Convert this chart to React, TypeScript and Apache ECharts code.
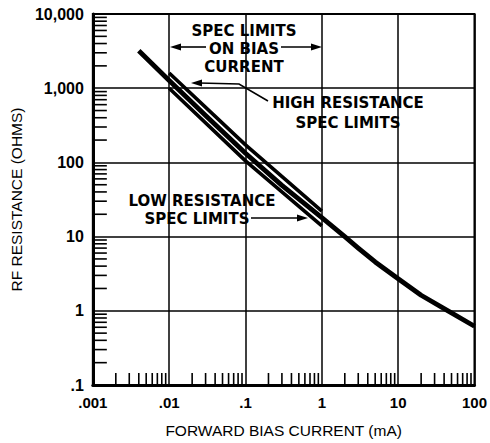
import React, { useEffect, useRef } from 'react';
import * as echarts from 'echarts';

// Axis tick labels (decades)
const xTickLabels = ['.001', '.01', '.1', '1', '10', '100'];
const yTickLabels = ['.1', '1', '10', '100', '1,000', '10,000'];
const xDecades = [-3, -2, -1, 0, 1];
const yDecades = [-1, 0, 1, 2, 3];
const minorMultipliers = [2, 3, 4, 5, 6, 7, 8, 9];

// Main RF resistance curve (mA, ohms)
const mainCurrent = [0.004, 0.01, 0.03, 0.1, 0.3, 1, 2, 3, 5, 10, 20, 45, 100];
const mainResistance = [3200, 1270, 430, 133, 49, 18, 10, 7.0, 4.55, 2.7, 1.62, 1.0, 0.62];

// High resistance spec limit line
const highCurrent = [0.01, 0.1, 1];
const highResistance = [1600, 172, 22];

// Low resistance spec limit line
const lowCurrent = [0.01, 0.1, 1];
const lowResistance = [1000, 105, 14];

const X_MIN = 0.001;
const X_MAX = 100;
const Y_MIN = 0.1;
const Y_MAX = 10000;

const zip = (a: number[], b: number[]) => a.map((v, i) => [v, b[i]]);

const xMinorTicks: number[][] = [];
xDecades.forEach((e) => minorMultipliers.forEach((k) => xMinorTicks.push([k * Math.pow(10, e), Y_MIN])));
const yMinorTicks: number[][] = [];
yDecades.forEach((e) => minorMultipliers.forEach((k) => yMinorTicks.push([X_MIN, k * Math.pow(10, e)])));

const tickFont = 'Liberation Sans';
const annFont = 'bold 15px "DejaVu Sans"';

function txt(text: string, x: number, y: number) {
  return {
    type: 'text',
    x,
    y,
    style: {
      text,
      font: annFont,
      fill: '#000',
      textAlign: 'center',
      textVerticalAlign: 'middle',
      align: 'center',
      verticalAlign: 'middle',
    },
    z: 100,
  };
}

function arrowHead(tipX: number, tipY: number, dir: number) {
  const len = 11;
  const half = 3.5;
  return {
    type: 'polygon',
    shape: {
      points: [
        [tipX, tipY],
        [tipX - dir * len, tipY - half],
        [tipX - dir * len, tipY + half],
      ],
    },
    style: { fill: '#000' },
    z: 100,
  };
}

function hline(x1: number, x2: number, y: number) {
  return {
    type: 'line',
    shape: { x1, y1: y, x2, y2: y },
    style: { stroke: '#000', lineWidth: 1.6 },
    z: 100,
  };
}

export default function App() {
  const ref = useRef<HTMLDivElement>(null);

  useEffect(() => {
    const chart = echarts.init(ref.current!, null, { renderer: 'svg' });
    const option: any = {
      animation: false,
      backgroundColor: '#fff',
      grid: {
        left: 92,
        right: 12,
        top: 14,
        bottom: 54,
        show: true,
        borderColor: '#000',
        borderWidth: 2,
        backgroundColor: 'transparent',
      },
      xAxis: {
        type: 'log',
        logBase: 10,
        min: X_MIN,
        max: X_MAX,
        axisLine: { show: true, onZero: false, lineStyle: { color: '#000', width: 3 } },
        axisTick: { show: false },
        splitLine: { show: true, lineStyle: { color: '#000', width: 1.5 } },
        axisLabel: {
          color: '#000',
          fontFamily: tickFont,
          fontWeight: 'bold',
          fontSize: 15,
          margin: 10,
          formatter: (v: number) => xTickLabels[Math.round(Math.log10(v)) + 3] ?? '',
        },
        name: 'FORWARD BIAS CURRENT (mA)',
        nameLocation: 'middle',
        nameGap: 37,
        nameTextStyle: { color: '#000', fontFamily: tickFont, fontSize: 15.5 },
      },
      yAxis: {
        type: 'log',
        logBase: 10,
        min: Y_MIN,
        max: Y_MAX,
        axisLine: { show: true, onZero: false, lineStyle: { color: '#000', width: 3 } },
        axisTick: { show: false },
        splitLine: { show: true, lineStyle: { color: '#000', width: 1.5 } },
        axisLabel: {
          color: '#000',
          fontFamily: tickFont,
          fontWeight: 'bold',
          fontSize: 16,
          margin: 9,
          formatter: (v: number) => yTickLabels[Math.round(Math.log10(v)) + 1] ?? '',
        },
        name: 'RF RESISTANCE (OHMS)',
        nameLocation: 'middle',
        nameGap: 68,
        nameTextStyle: { color: '#000', fontFamily: tickFont, fontSize: 15.5 },
      },
      series: [
        {
          type: 'custom',
          clip: false,
          silent: true,
          z: 5,
          data: xMinorTicks,
          renderItem: (params: any, api: any) => {
            const p = api.coord([api.value(0), api.value(1)]);
            return {
              type: 'line',
              shape: { x1: p[0], y1: p[1], x2: p[0], y2: p[1] - 12 },
              style: { stroke: '#000', lineWidth: 1.6 },
            };
          },
        },
        {
          type: 'custom',
          clip: false,
          silent: true,
          z: 5,
          data: yMinorTicks,
          renderItem: (params: any, api: any) => {
            const p = api.coord([api.value(0), api.value(1)]);
            return {
              type: 'line',
              shape: { x1: p[0], y1: p[1], x2: p[0] + 14, y2: p[1] },
              style: { stroke: '#000', lineWidth: 1.6 },
            };
          },
        },
        {
          type: 'line',
          data: zip(mainCurrent, mainResistance),
          smooth: false,
          symbol: 'none',
          lineStyle: { color: '#000', width: 4.8, cap: 'butt', join: 'round' },
          z: 10,
        },
        {
          type: 'line',
          data: zip(highCurrent, highResistance),
          smooth: false,
          symbol: 'none',
          lineStyle: { color: '#000', width: 3.6, cap: 'butt' },
          z: 11,
        },
        {
          type: 'line',
          data: zip(lowCurrent, lowResistance),
          smooth: false,
          symbol: 'none',
          lineStyle: { color: '#000', width: 3.6, cap: 'butt' },
          z: 11,
        },
      ],
      graphic: [
        txt('SPEC LIMITS', 244, 31),
        txt('ON BIAS', 244, 49),
        txt('CURRENT', 244, 67),
        hline(176, 206, 47),
        arrowHead(170, 47, -1),
        hline(281, 316, 47),
        arrowHead(322, 47, 1),
        txt('HIGH RESISTANCE', 348, 102.5),
        txt('SPEC LIMITS', 348, 122.5),
        {
          type: 'polyline',
          shape: { points: [[268, 101], [239, 84], [199, 83]] },
          style: { stroke: '#000', lineWidth: 1.6, fill: null },
          z: 100,
        },
        arrowHead(191, 83, -1),
        txt('LOW RESISTANCE', 202, 201),
        txt('SPEC LIMITS', 197, 219),
        hline(251, 300, 218),
        arrowHead(308, 218, 1),
      ],
    };
    chart.setOption(option);
    return () => chart.dispose();
  }, []);

  return (
    <div
      ref={ref}
      style={{ position: 'absolute', left: 0, top: 0, width: 490, height: 443, background: '#fff' }}
    />
  );
}
